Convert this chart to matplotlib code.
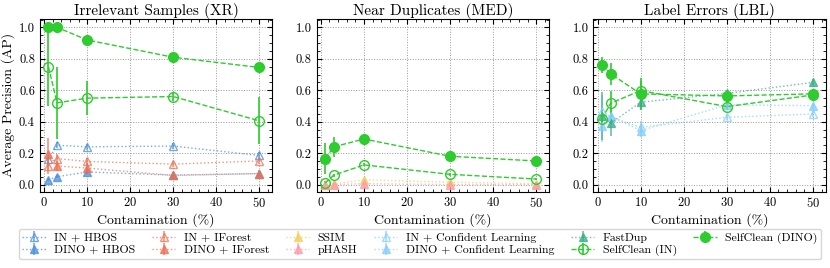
import matplotlib
matplotlib.use("Agg")
import matplotlib.pyplot as plt
import numpy as np

plt.rcParams.update({
    "font.family": ["cmr10", "DejaVu Serif"],
    "mathtext.fontset": "cm",
    "axes.formatter.use_mathtext": True,
    "axes.unicode_minus": False,
})

x = [1, 3, 10, 30, 50]
titles = ["Irrelevant Samples (XR)", "Near Duplicates (MED)", "Label Errors (LBL)"]

# Panel 1: Irrelevant Samples (XR)
xr_in_hbos = [0.16, 0.25, 0.24, 0.245, 0.185]
xr_dino_hbos = [0.03, 0.05, 0.08, 0.06, 0.07]
xr_in_iforest = [0.12, 0.165, 0.147, 0.13, 0.15]
xr_dino_iforest = [0.195, 0.118, 0.105, 0.058, 0.07]
xr_sc_in = [0.75, 0.52, 0.55, 0.56, 0.405]
xr_sc_in_err = [0.25, 0.23, 0.11, 0.03, 0.15]
xr_sc_dino = [1.0, 1.0, 0.92, 0.81, 0.745]
xr_sc_dino_err = [0.005, 0.005, 0.02, 0.01, 0.01]
xr_iforest_err = [0.1, 0.03, 0.03, 0.02, 0.02]

# Panel 2: Near Duplicates (MED)
med_ssim = [0.0, 0.005, 0.03, 0.015, 0.005]
med_phash = [0.0, 0.0, 0.005, 0.0, 0.0]
med_sc_in = [0.01, 0.06, 0.125, 0.065, 0.035]
med_sc_in_err = [0.01, 0.01, 0.01, 0.01, 0.005]
med_sc_dino = [0.165, 0.24, 0.29, 0.18, 0.15]
med_sc_dino_err = [0.1, 0.065, 0.01, 0.01, 0.01]

# Panel 3: Label Errors (LBL)
lbl_in_cl = [0.468, 0.43, 0.364, 0.428, 0.449]
lbl_dino_cl = [0.372, 0.436, 0.343, 0.507, 0.502]
lbl_cl_err = [0.1, 0.05, 0.04, 0.02, 0.02]
lbl_fastdup = [0.436, 0.39, 0.524, 0.58, 0.65]
lbl_fastdup_err = [0.15, 0.08, 0.05, 0.02, 0.02]
lbl_sc_in = [0.417, 0.517, 0.598, 0.496, 0.57]
lbl_sc_in_err = [0.03, 0.08, 0.06, 0.02, 0.02]
lbl_sc_dino = [0.76, 0.705, 0.577, 0.564, 0.577]
lbl_sc_dino_err = [0.05, 0.07, 0.1, 0.02, 0.02]

C_HBOS = "#4a8fd9"
C_IFOREST = "#f07050"
C_SSIM = "#f0d060"
C_PHASH = "#ff9aaa"
C_CL = "#87cefa"
C_FASTDUP = "#3aad88"
C_SC = "#2ecc2e"

fig = plt.figure(figsize=(8.3, 2.68), dpi=100)
axes = fig.subplots(1, 3)
fig.subplots_adjust(left=0.048, right=0.995, top=0.93, bottom=0.285, wspace=0.19)

handles = {}


def base(ax, y, color, filled, label, err=None):
    h = ax.errorbar(x, y, yerr=err, color=color, ls=":", lw=1.0, marker="^", ms=6,
                    mfc=color if filled else "none", mec=color, mew=1.0,
                    alpha=0.75, elinewidth=1.2, label=label)
    handles[label] = h


def sc(ax, y, err, filled, label):
    h = ax.errorbar(x, y, yerr=err, color=C_SC, ls="--", lw=1.0, marker="o", ms=7,
                    mfc=C_SC if filled else "none", mec=C_SC, mew=1.0,
                    elinewidth=1.2, label=label)
    handles[label] = h


ax = axes[0]
base(ax, xr_in_hbos, C_HBOS, False, "IN + HBOS", [0.02] * 5)
base(ax, xr_dino_hbos, C_HBOS, True, "DINO + HBOS", [0.01] * 5)
base(ax, xr_in_iforest, C_IFOREST, False, "IN + IForest", [0.05, 0.03, 0.02, 0.02, 0.02])
base(ax, xr_dino_iforest, C_IFOREST, True, "DINO + IForest", xr_iforest_err)
sc(ax, xr_sc_in, xr_sc_in_err, False, "SelfClean (IN)")
sc(ax, xr_sc_dino, xr_sc_dino_err, True, "SelfClean (DINO)")

ax = axes[1]
base(ax, med_ssim, C_SSIM, True, "SSIM", [0.005] * 5)
base(ax, med_phash, C_PHASH, True, "pHASH", [0.003] * 5)
sc(ax, med_sc_in, med_sc_in_err, False, "SelfClean (IN)")
sc(ax, med_sc_dino, med_sc_dino_err, True, "SelfClean (DINO)")

ax = axes[2]
base(ax, lbl_in_cl, C_CL, False, "IN + Confident Learning", lbl_cl_err)
base(ax, lbl_dino_cl, C_CL, True, "DINO + Confident Learning", lbl_cl_err)
base(ax, lbl_fastdup, C_FASTDUP, True, "FastDup", lbl_fastdup_err)
sc(ax, lbl_sc_in, lbl_sc_in_err, False, "SelfClean (IN)")
sc(ax, lbl_sc_dino, lbl_sc_dino_err, True, "SelfClean (DINO)")

for i, ax in enumerate(axes):
    ax.set_title(titles[i], fontsize=11, pad=3)
    ax.set_xlim(-1.0, 53.0)
    ax.set_ylim(-0.045, 1.055)
    ax.set_xticks([0, 10, 20, 30, 40, 50])
    ax.set_yticks([0.0, 0.2, 0.4, 0.6, 0.8, 1.0])
    ax.set_yticklabels(["0.0", "0.2", "0.4", "0.6", "0.8", "1.0"])
    ax.minorticks_on()
    ax.tick_params(which="both", direction="in", top=True, right=True, labelsize=9)
    ax.tick_params(which="major", length=3.5)
    ax.tick_params(which="minor", length=2)
    ax.grid(True, which="major", color="#999999", ls=":", lw=0.7)
    ax.set_xlabel("Contamination (%)", fontsize=10, labelpad=2)
    for s in ax.spines.values():
        s.set_linewidth(0.8)
axes[0].set_ylabel("Average Precision (AP)", fontsize=10, labelpad=3)

order = ["IN + HBOS", "DINO + HBOS", "IN + IForest", "DINO + IForest", "SSIM", "pHASH",
         "IN + Confident Learning", "DINO + Confident Learning", "FastDup", "SelfClean (IN)",
         "SelfClean (DINO)"]
fig.legend([handles[k] for k in order], order, loc="lower center", ncol=6,
           bbox_to_anchor=(0.506, 0.01), fontsize=8.5, frameon=True, fancybox=True,
           edgecolor="#cccccc", columnspacing=1.4, handlelength=2.0, handletextpad=0.7,
           borderpad=0.3, labelspacing=0.15)

fig.savefig("out.png", dpi=100)
